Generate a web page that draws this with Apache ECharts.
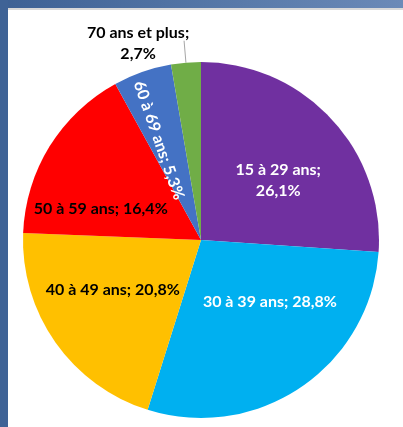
<!DOCTYPE html>
<html>
<head>
<meta charset="utf-8">
<script src="https://cdn.jsdelivr.net/npm/echarts@6/dist/echarts.min.js"></script>
<style>
  html, body { margin: 0; padding: 0; background: #fff; }
  #chart { width: 403px; height: 427px; }
</style>
</head>
<body>
<div id="chart"></div>
<script>
// age groups, clockwise from 12 o'clock
const categories = ['15 à 29 ans', '30 à 39 ans', '40 à 49 ans', '50 à 59 ans', '60 à 69 ans', '70 ans et plus']
const shares = [26.1, 28.8, 20.8, 16.4, 5.3, 2.7]

const colorList = ['#7030a0', '#00b0f0', '#ffc000', '#ff0000', '#4472c4', '#70ad47']
const labelColors = ['#fff', '#fff', '#000', '#000', '#fff', '#000']
// nudge labels a bit like Excel's best-fit placement (rotated one is in its own frame)
const labelNudge = [[10, 3], [17, -14], [-13, -3], [-22, 17], [-16, 7], [-41, 3]]

const fmt = v => v.toFixed(1).replace('.', ',') + '%'

const chart = echarts.init(document.getElementById('chart'), null, { renderer: 'canvas' })

const seriesData = categories.map((name, i) => {
  const item = {
    name: name,
    value: shares[i],
    itemStyle: { color: colorList[i] },
    label: { color: labelColors[i] }
  }
  if (i === 0 || i === 5) {
    item.label.formatter = '{b};\n' + fmt(shares[i])
  }
  if (i === 4) {
    item.label.rotate = 'radial'
  }
  if (i === 5) {
    item.label.position = 'outside'
    item.label.align = 'center'
    item.labelLine = { show: true, length: 22, length2: 0, lineStyle: { color: '#a6a6a6', width: 1 } }
  }
  return item
})

chart.setOption({
  animation: false,
  backgroundColor: '#fff',
  graphic: [
    {
      type: 'rect',
      shape: { x: 0, y: 0, width: 403, height: 8 },
      style: {
        fill: new echarts.graphic.LinearGradient(0, 0, 1, 0, [
          { offset: 0, color: '#3d6194' },
          { offset: 1, color: '#6b8ab8' }
        ])
      },
      z: 10
    },
    { type: 'rect', shape: { x: 8, y: 8, width: 395, height: 2 }, style: { fill: '#d9d9d9' }, z: 10 },
    { type: 'rect', shape: { x: 0, y: 0, width: 8, height: 427 }, style: { fill: '#3f6396' }, z: 11 }
  ],
  series: [{
    type: 'pie',
    center: [201, 240],
    radius: 178,
    startAngle: 90,
    clockwise: true,
    silent: true,
    data: seriesData,
    label: {
      show: true,
      position: 'inside',
      fontFamily: 'Lato',
      fontWeight: 'bold',
      fontSize: 16,
      lineHeight: 21,
      formatter: p => p.name + '; ' + fmt(p.value)
    },
    labelLine: { show: false },
    itemStyle: { borderWidth: 0 },
    labelLayout: function (params) {
      const n = labelNudge[params.dataIndex]
      const out = { dx: n[0], dy: n[1] }
      if (params.dataIndex === 5) out.align = 'center'
      return out
    }
  }]
})
</script>
</body>
</html>
